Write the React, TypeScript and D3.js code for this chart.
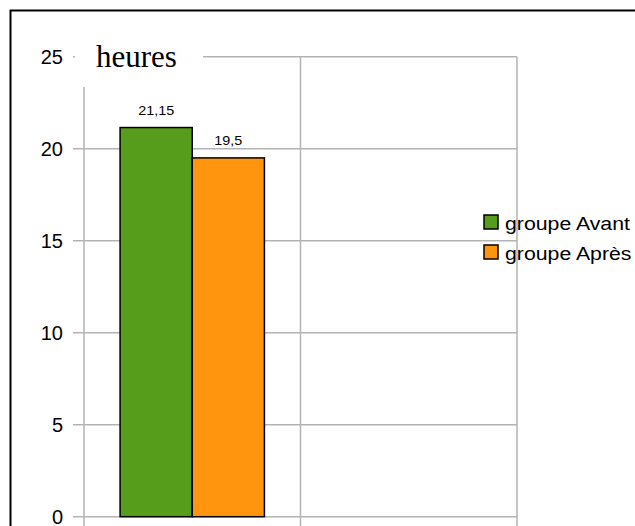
import React from "react";
import * as d3 from "d3";

// data
const categories = ["A", "B"];
const seriesNames = ["groupe Avant", "groupe Après"];
const avant = [21.15, null];
const apres = [19.5, null];
const yTicks = [0, 5, 10, 15, 20, 25];
const barLabels = ["21,15", "19,5"];

const W = 635;
const H = 526;
const colors = ["#579d1c", "#ff950e"];

export default function App() {
  const left = 84;
  const right = 517;
  const top = 56.7;
  const bottom = 516.7;

  const x = d3.scaleBand().domain(categories).range([left, right]).paddingInner(0).paddingOuter(0);
  const y = d3.scaleLinear().domain([0, 25]).range([bottom, top]);
  // bars take two thirds of the category, half a bar of gap each side
  const inner = d3
    .scaleBand()
    .domain(seriesNames)
    .range([0, x.bandwidth()])
    .paddingOuter(0.5)
    .paddingInner(0);

  const series = [avant, apres];
  const sx = 1.15;

  return (
    <svg
      width={W}
      height={H}
      style={{ position: "absolute", left: 0, top: 0, background: "#fff" }}
      fontFamily="'Liberation Sans', Arial, sans-serif"
    >
      <rect x={0} y={0} width={W} height={H} fill="#fff" />
      {/* outer frame (cropped on right and bottom) */}
      <rect x={10.5} y={10.5} width={W + 20} height={H + 20} fill="none" stroke="#000" strokeWidth={2} />

      {/* horizontal grid */}
      {yTicks.map((t) => (
        <line key={"h" + t} x1={73} x2={right} y1={y(t)} y2={y(t)} stroke="#b3b3b3" strokeWidth={1.5} />
      ))}
      {/* vertical grid */}
      {[left, ...categories.map((c) => (x(c) as number) + x.bandwidth())].map((v, i) => (
        <line key={"v" + i} x1={v} x2={v} y1={top} y2={H} stroke="#b3b3b3" strokeWidth={1.5} />
      ))}

      {/* title with white backing */}
      <rect x={75} y={30} width={128} height={57} fill="#fff" />
      <text x={96} y={67} fontFamily="'Liberation Serif', 'Times New Roman', serif" fontSize={31} fill="#000">
        heures
      </text>

      {/* y tick labels */}
      {yTicks.map((t) => (
        <text key={"t" + t} x={63} y={y(t)} dy="0.35em" textAnchor="end" fontSize={20} fill="#000">
          {t}
        </text>
      ))}

      {/* bars */}
      {series.map((s, si) =>
        s.map((v, ci) => {
          if (v == null) return null;
          const bx = (x(categories[ci]) as number) + (inner(seriesNames[si]) as number);
          return (
            <g key={si + "-" + ci}>
              <rect
                x={bx}
                y={y(v)}
                width={inner.bandwidth()}
                height={y(0) - y(v)}
                fill={colors[si]}
                stroke="#000"
                strokeWidth={1.5}
              />
              <text
                transform={`translate(${bx + inner.bandwidth() / 2},${y(v) - 12.5}) scale(${sx},1)`}
                textAnchor="middle"
                fontSize={12.5}
                fill="#000"
              >
                {barLabels[si]}
              </text>
            </g>
          );
        })
      )}

      {/* legend */}
      {seriesNames.map((n, i) => (
        <g key={n} transform={`translate(484,${215 + i * 30})`}>
          <rect x={0} y={0} width={14} height={14} fill={colors[i]} stroke="#000" strokeWidth={1.5} />
          <text transform={`translate(21,15) scale(1.12,1)`} fontSize={19} fill="#000">
            {n}
          </text>
        </g>
      ))}
    </svg>
  );
}
